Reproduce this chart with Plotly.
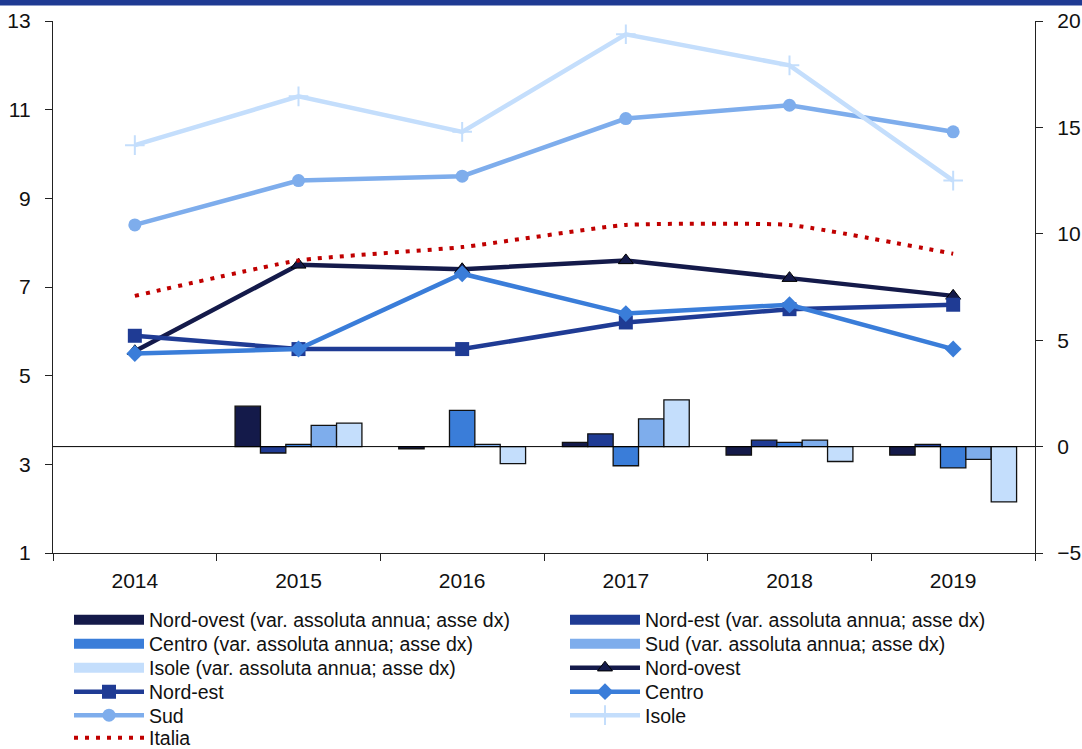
import plotly.graph_objects as go

years = ["2014", "2015", "2016", "2017", "2018", "2019"]

# Tassi (asse sx)
nord_ovest = [5.55, 7.5, 7.4, 7.6, 7.2, 6.8]
nord_est = [5.9, 5.6, 5.6, 6.2, 6.5, 6.6]
centro = [5.5, 5.6, 7.3, 6.4, 6.6, 5.6]
sud = [8.4, 9.4, 9.5, 10.8, 11.1, 10.5]
isole = [10.2, 11.3, 10.5, 12.7, 12.0, 9.4]
italia = [6.8, 7.6, 7.9, 8.4, 8.4, 7.75]

# Variazioni assolute annue (asse dx)
var_nord_ovest = [None, 1.9, -0.1, 0.2, -0.4, -0.4]
var_nord_est = [None, -0.3, 0.0, 0.6, 0.3, 0.1]
var_centro = [None, 0.1, 1.7, -0.9, 0.2, -1.0]
var_sud = [None, 1.0, 0.1, 1.3, 0.3, -0.6]
var_isole = [None, 1.1, -0.8, 2.2, -0.7, -2.6]

left_ticks = [1, 3, 5, 7, 9, 11, 13]
right_ticks = [-5, 0, 5, 10, 15, 20]

C_NO = "#141A4A"
C_NE = "#1F3B94"
C_CE = "#3A7DD9"
C_SU = "#7EADEC"
C_IS = "#C4DEFC"
C_IT = "#C00000"

FONT = "Liberation Sans, Arial, sans-serif"

fig = go.Figure()

# legend slot positions (column x in px, row centre y in px)
COL_X = [69, 565]
ROW_Y = [620, 644, 668, 692, 715.5, 738]
legend_order = [
    "Nord-ovest (var. assoluta annua; asse dx)", "Nord-est (var. assoluta annua; asse dx)",
    "Centro (var. assoluta annua; asse dx)", "Sud (var. assoluta annua; asse dx)",
    "Isole (var. assoluta annua; asse dx)", "Nord-ovest",
    "Nord-est", "Centro",
    "Sud", "Isole",
    "Italia",
]
legend_ids = {}
legend_layouts = {}
for i, nm in enumerate(legend_order):
    lid = "legend" if i == 0 else f"legend{i + 1}"
    legend_ids[nm] = lid
    legend_layouts[lid] = dict(
        xref="container", yref="container",
        x=COL_X[i % 2] / 1082, y=1 - ROW_Y[i // 2] / 749,
        xanchor="left", yanchor="middle", orientation="v", itemwidth=70,
        font=dict(family=FONT, size=19.5, color="#111111"),
        bgcolor="rgba(0,0,0,0)", borderwidth=0,
    )

bar_specs = [
    ("Nord-ovest (var. assoluta annua; asse dx)", var_nord_ovest, C_NO),
    ("Nord-est (var. assoluta annua; asse dx)", var_nord_est, C_NE),
    ("Centro (var. assoluta annua; asse dx)", var_centro, C_CE),
    ("Sud (var. assoluta annua; asse dx)", var_sud, C_SU),
    ("Isole (var. assoluta annua; asse dx)", var_isole, C_IS),
]
for name, vals, col in bar_specs:
    fig.add_trace(go.Bar(
        x=years, y=vals, name=name, yaxis="y2",
        marker=dict(color=col, line=dict(color="#111111", width=1.3)),
        showlegend=False,
    ))

# legend entries for bars (wide rectangles, as in the reference)
for name, vals, col in bar_specs:
    fig.add_trace(go.Scatter(
        x=[None], y=[None], mode="lines", name=name, legend=legend_ids[name],
        line=dict(color=col, width=11), hoverinfo="skip",
    ))

line_specs = [
    ("Nord-ovest", nord_ovest, C_NO, dict(symbol="triangle-up", size=13, color=C_NO,
                                          line=dict(color="black", width=1))),
    ("Nord-est", nord_est, C_NE, dict(symbol="square", size=14, color=C_NE)),
    ("Centro", centro, C_CE, dict(symbol="diamond", size=13, color=C_CE)),
    ("Sud", sud, C_SU, dict(symbol="circle", size=13, color=C_SU)),
    ("Isole", isole, C_IS, dict(symbol="cross-thin", size=14, color=C_IS,
                                line=dict(color=C_IS, width=2))),
]
for name, vals, col, mk in line_specs:
    fig.add_trace(go.Scatter(
        x=years, y=vals, name=name, mode="lines+markers", legend=legend_ids[name],
        line=dict(color=col, width=4.5), marker=mk,
    ))

fig.add_trace(go.Scatter(
    x=years, y=italia, name="Italia", mode="lines", legend=legend_ids["Italia"],
    line=dict(color=C_IT, width=4, dash="4px,7px", shape="spline", smoothing=0.4),
))

fig.add_shape(type="line", xref="paper", yref="y2", x0=0, x1=1, y0=0, y1=0,
              line=dict(color="black", width=1))
fig.add_shape(type="rect", xref="paper", yref="paper", x0=-0.1, x1=1.1,
              y0=1.029, y1=1.06, fillcolor="#1F3A93", line=dict(width=0))

axis_common = dict(showgrid=False, zeroline=False, showline=True, linecolor="#222222",
                   linewidth=1.3, ticks="outside", ticklen=7, tickcolor="#222222",
                   tickwidth=1.3, tickfont=dict(family=FONT, size=21, color="#111111"))

fig.update_layout(
    width=1082, height=749,
    margin=dict(l=53, r=47, t=21, b=196, autoexpand=False),
    paper_bgcolor="white", plot_bgcolor="white",
    barmode="group", bargap=0.225, bargroupgap=0,
    font=dict(family=FONT, size=19, color="#111111"),
    xaxis=dict(type="category", tickson="boundaries", ticklabelstandoff=9,
               tickangle=0, automargin=False, **axis_common),
    yaxis=dict(range=[1, 13], tickvals=left_ticks, ticklabelstandoff=10,
               automargin=False, **axis_common),
    yaxis2=dict(range=[-5, 20], tickvals=right_ticks, overlaying="y", side="right",
                ticklabelstandoff=10, automargin=False, **axis_common),
    **legend_layouts,
)

fig.write_html("out.html", config={"displayModeBar": False},
               post_script="document.body.style.margin='0';")
